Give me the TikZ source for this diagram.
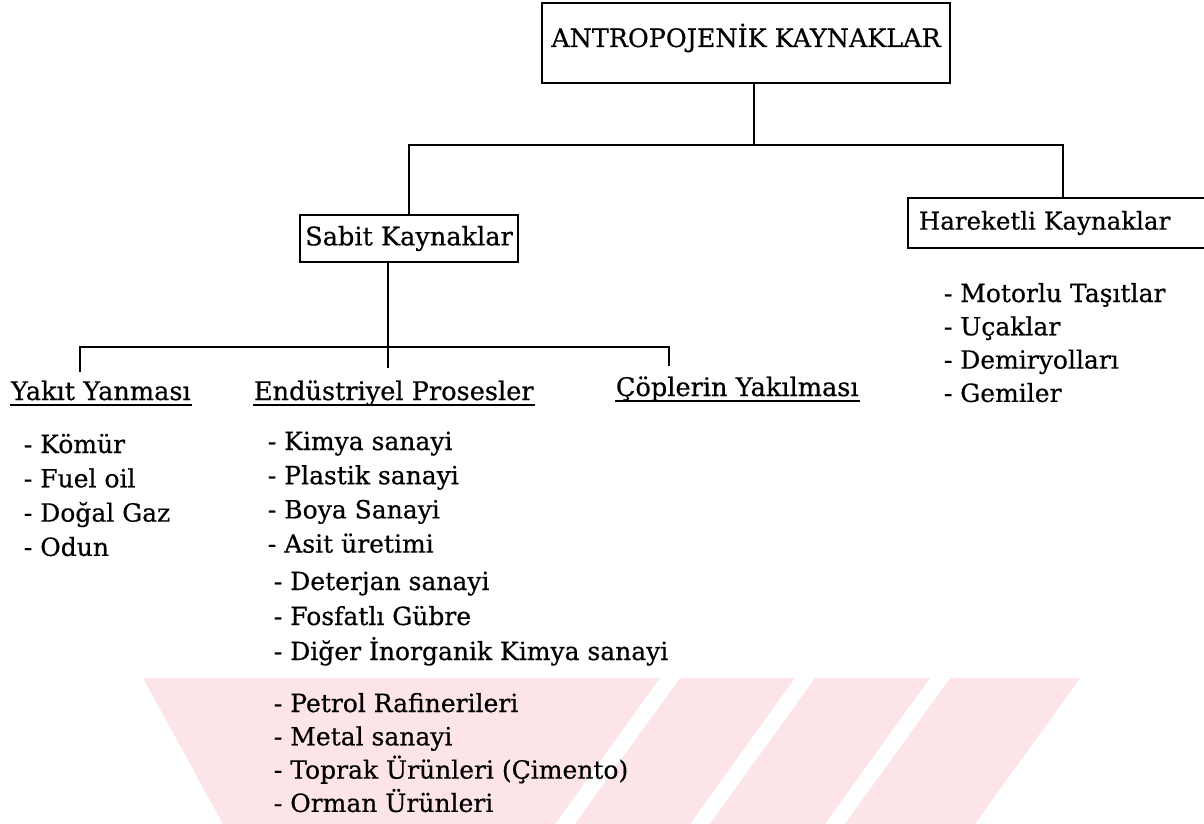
\documentclass[tikz,border=0pt]{standalone}
\usepackage{fontspec}
\setmainfont{DejaVu Serif}[FakeBold=0.5]
\definecolor{tezpink}{RGB}{252,228,233}

\begin{document}
\begin{tikzpicture}[x=1pt,y=-1pt,line width=1.8pt,
    every node/.style={font=\fontsize{25}{34}\selectfont,inner sep=0pt},
    box/.style={draw,line width=1.8pt},
    head/.style={anchor=base west,font=\fontsize{25.6}{34}\selectfont},
    uline/.style={line width=1.6pt},
    item/.style={anchor=base west},
    wmark/.style={fill=tezpink,draw=none}]
  \useasboundingbox (0,0) rectangle (1204,824);
  \clip (0,0) rectangle (1204,824);
  \fill[wmark] (143,678) -- (660,678) -- (555,824) -- (223,824) -- cycle;
  \fill[wmark] (680,678) -- (795,678) -- (690,824) -- (575,824) -- cycle;
  \fill[wmark] (815,678) -- (930,678) -- (825,824) -- (710,824) -- cycle;
  \fill[wmark] (950,678) -- (1080,678) -- (975,824) -- (845,824) -- cycle;

  \node[box,minimum width=408pt,minimum height=80pt,text height=20pt,text depth=12pt,
    font=\fontsize{25.4}{30}\selectfont] (top) at (746,43) {ANTROPOJENİK KAYNAKLAR};
  \node[box,minimum width=218pt,minimum height=47pt,font=\fontsize{25.6}{30}\selectfont]
    (sabit) at (409,238.5) {Sabit Kaynaklar};
  \node[box,anchor=west,minimum width=310pt,minimum height=50pt,text width=288pt,
    align=left,inner xsep=11pt,font=\fontsize{24.5}{30}\selectfont]
    (hare) at (907,223) {Hareketli Kaynaklar};

  \node[head] (yakit) at (10,400) {Yakıt Yanması};
  \node[head] (endu) at (253,400) {Endüstriyel Prosesler};
  \node[head] (cop) at (615,396) {Çöplerin Yakılması};
  \foreach \h in {yakit,endu,cop}
    \draw[uline] ([yshift=-5pt]\h.base west) -- ([yshift=-5pt]\h.base east);

  \foreach \t [count=\i from 0] in {Kömür,Fuel oil,Doğal Gaz,Odun}
    \node[item] (yakit\i) at (23,{453+34.3*\i}) {- \t};
  \foreach \t [count=\i from 0] in {Kimya sanayi,Plastik sanayi,Boya Sanayi,Asit üretimi}
    \node[item] (kimya\i) at (267,{450+34.2*\i}) {- \t};
  \foreach \t [count=\i from 0] in {Deterjan sanayi,Fosfatlı Gübre,Diğer İnorganik Kimya sanayi}
    \node[item] (inorg\i) at (273,{590+35*\i}) {- \t};
  \foreach \t [count=\i from 0] in {Petrol Rafinerileri,Metal sanayi,Toprak Ürünleri (Çimento),Orman Ürünleri}
    \node[item] (petrol\i) at (273,{712+33.3*\i}) {- \t};
  \foreach \t [count=\i from 0] in {Motorlu Taşıtlar,Uçaklar,Demiryolları,Gemiler}
    \node[item] (motor\i) at (943,{302+33.3*\i}) {- \t};

  \coordinate (j1) at (754,145);
  \coordinate (j2) at (388,347);
  \coordinate (e1) at (388,368);
  \coordinate (d1) at (80,372);
  \coordinate (d3) at (669,366);
  \draw (top.south -| j1) -- (j1);
  \draw (sabit.north) -- (sabit.north |- j1) -- (hare.north |- j1) -- (hare.north);
  \draw (sabit.south -| j2) -- (e1);
  \draw (d1) -- (d1 |- j2) -- (d3 |- j2) -- (d3);
\end{tikzpicture}
\end{document}
